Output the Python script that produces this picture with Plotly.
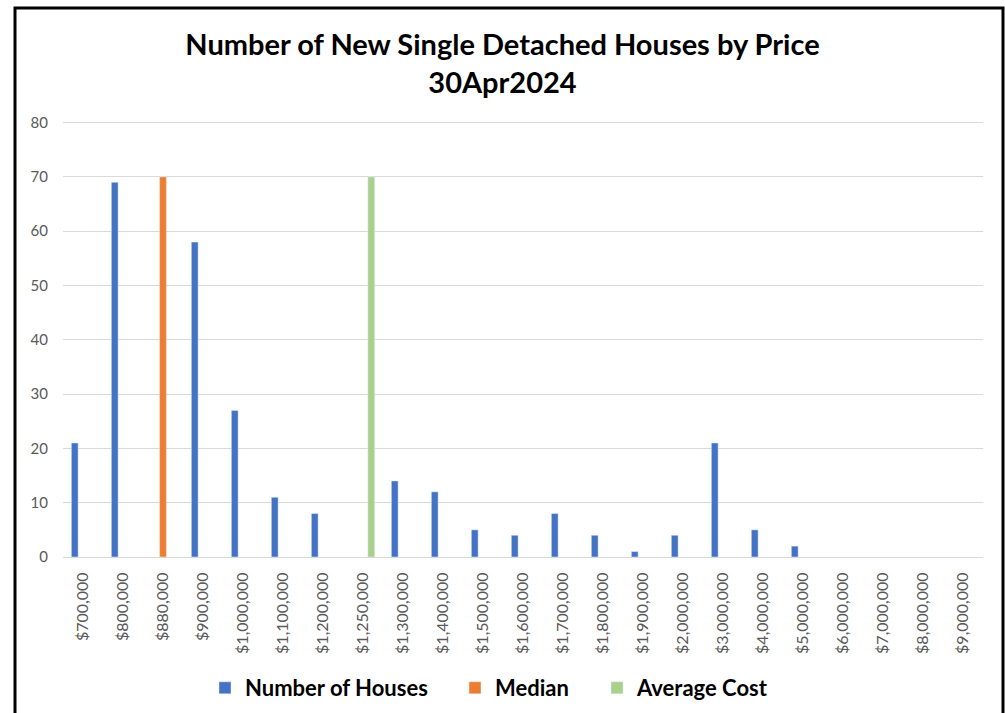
import plotly.graph_objects as go

categories = ["$700,000", "$800,000", "$880,000", "$900,000", "$1,000,000", "$1,100,000",
              "$1,200,000", "$1,250,000", "$1,300,000", "$1,400,000", "$1,500,000",
              "$1,600,000", "$1,700,000", "$1,800,000", "$1,900,000", "$2,000,000",
              "$3,000,000", "$4,000,000", "$5,000,000", "$6,000,000", "$7,000,000",
              "$8,000,000", "$9,000,000"]
houses = [21, 69, None, 58, 27, 11, 8, None, 14, 12, 5, 4, 8, 4, 1, 4, 21, 5, 2, None, None, None, None]
median = [None, None, 70] + [None] * 20
average = [None] * 7 + [70] + [None] * 15

fig = go.Figure()
fig.add_trace(go.Bar(x=categories, y=houses, name="Number of Houses", marker_color="#4472C4",
                     legend="legend", showlegend=True))
fig.add_trace(go.Bar(x=categories, y=median, name="Median", marker_color="#ED7D31",
                     legend="legend2", showlegend=True))
fig.add_trace(go.Bar(x=categories, y=average, name="Average Cost", marker_color="#A9D18E",
                     legend="legend3", showlegend=True))

W, H = 1005, 713
l, r, t, b = 63, 22, 121, 156
pw, ph = W - l - r, H - t - b

def px_x(x):
    return (x - l) / pw

def px_y(y):
    return (H - b - y) / ph

def leg(xpx):
    return dict(orientation="h", x=px_x(xpx), xanchor="left", y=px_y(688), yanchor="middle",
                font=dict(family="Lato", size=22, color="black", weight="bold"), itemwidth=30,
                bgcolor="rgba(0,0,0,0)")

fig.update_layout(
    width=W, height=H,
    showlegend=True,
    margin=dict(l=l, r=r, t=t, b=b, autoexpand=False),
    paper_bgcolor="white", plot_bgcolor="white",
    barmode="group", bargap=0.38, bargroupgap=0.18,
    title=dict(text="<b>Number of New Single Detached Houses by Price<br>30Apr2024</b>",
               x=0.5, xanchor="center", y=0.923, yanchor="top",
               font=dict(family="Lato", size=29, color="black")),
    font=dict(family="Lato", color="#595959"),
    legend=leg(205), legend2=leg(455), legend3=leg(597),
    xaxis=dict(tickangle=-90, tickfont=dict(size=16, color="#595959"), showgrid=False,
               showline=True, linecolor="#D9D9D9", linewidth=1, ticks="", ticklabelstandoff=8,
               automargin=False),
    yaxis=dict(range=[0, 80.3], tickvals=[0, 10, 20, 30, 40, 50, 60, 70, 80],
               showgrid=True, gridcolor="#D9D9D9", gridwidth=1,
               tickfont=dict(size=15, color="#595959"), zeroline=False, showline=False,
               ticklabelstandoff=14, automargin=False),
    shapes=[dict(type="rect", xref="paper", yref="paper",
                 x0=px_x(15), x1=px_x(1003), y0=px_y(720), y1=px_y(8),
                 line=dict(color="black", width=3), fillcolor="rgba(0,0,0,0)", layer="above")],
)

fig.write_html("out.html", config={"displayModeBar": False},
               post_script="document.body.style.margin='0';document.body.style.padding='0';")
